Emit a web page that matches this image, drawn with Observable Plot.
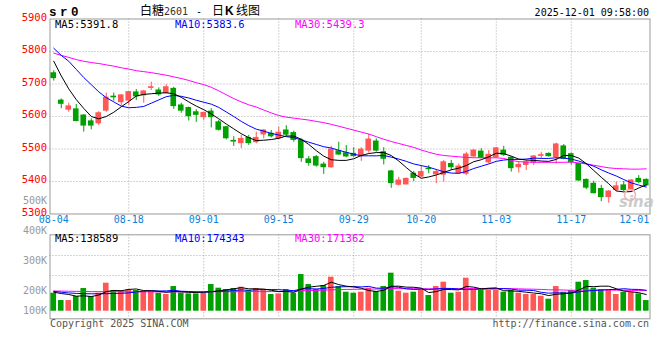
<!DOCTYPE html>
<html><head><meta charset="utf-8">
<script src="https://cdn.jsdelivr.net/npm/d3@7"></script>
<script src="https://cdn.jsdelivr.net/npm/@observablehq/plot@0.6"></script>
<style>
body{margin:0;background:#fff;}
#c{position:relative;width:660px;height:360px;overflow:hidden;background:#fff;}
#c svg{position:absolute;left:0;top:0;}
</style></head><body><div id="c"></div>
<script>
// ---------- data ----------
const dates = ["08-04","08-05","08-06","08-07","08-08","08-11","08-12","08-13","08-14","08-15","08-18","08-19","08-20","08-21","08-22","08-25","08-26","08-27","08-28","08-29","09-01","09-02","09-03","09-04","09-05","09-08","09-09","09-10","09-11","09-12","09-15","09-16","09-17","09-18","09-19","09-22","09-23","09-24","09-25","09-26","09-29","09-30","10-09","10-10","10-13","10-14","10-15","10-16","10-17","10-20","10-21","10-22","10-23","10-24","10-27","10-28","10-29","10-30","10-31","11-03","11-04","11-05","11-06","11-07","11-10","11-11","11-12","11-13","11-14","11-17","11-18","11-19","11-20","11-21","11-24","11-25","11-26","11-27","11-28","12-01"];
const open = [5733,5649,5621,5622,5603,5585,5579,5618,5661,5644, 5649,5674,5665,5688,5680,5672,5685,5634,5626,5613, 5598,5615,5582,5567,5525,5518,5534,5521,5545,5547, 5533,5557,5549,5526,5468,5475,5452,5444,5493,5487, 5485,5480,5495,5523,5490,5431,5390,5391,5424,5415, 5439,5422,5421,5454,5426,5424,5477,5492,5459,5475, 5495,5473,5444,5451,5458,5479,5485,5475,5508,5484, 5454,5405,5393,5377,5352,5374,5388,5374,5408,5405];
const high = [5741,5654,5641,5637,5605,5593,5615,5672,5672,5667, 5677,5683,5680,5706,5688,5698,5690,5641,5629,5621, 5613,5624,5588,5569,5538,5542,5542,5552,5559,5557, 5567,5572,5555,5531,5477,5480,5459,5508,5521,5511, 5504,5504,5545,5531,5504,5434,5413,5411,5431,5449, 5449,5437,5465,5465,5454,5490,5498,5501,5495,5505, 5508,5477,5459,5465,5480,5490,5488,5518,5514,5488, 5456,5408,5401,5388,5372,5398,5400,5405,5418,5408];
const low = [5709,5624,5613,5584,5552,5559,5572,5613,5647,5634, 5634,5649,5641,5680,5662,5670,5622,5610,5586,5582, 5588,5565,5555,5528,5508,5501,5511,5516,5531,5534, 5528,5538,5521,5459,5447,5444,5422,5441,5480,5473, 5475,5462,5487,5490,5451,5379,5386,5390,5400,5413, 5424,5393,5398,5434,5422,5418,5473,5470,5454,5472, 5477,5429,5426,5434,5449,5470,5475,5454,5467,5450, 5401,5375,5362,5338,5333,5369,5369,5367,5393,5385];
const close = [5718,5639,5631,5586,5572,5572,5610,5658,5659,5665, 5675,5662,5677,5690,5668,5690,5632,5618,5601,5605, 5611,5598,5559,5533,5523,5531,5518,5534,5557,5539, 5550,5544,5528,5472,5457,5449,5444,5498,5483,5477, 5478,5498,5529,5495,5470,5395,5403,5408,5411,5429, 5438,5429,5459,5444,5446,5483,5495,5473,5482,5502, 5482,5441,5451,5459,5477,5481,5478,5514,5470,5459, 5403,5381,5364,5352,5369,5385,5374,5403,5398,5388];
const ma5 = [5770,5725,5685,5652,5625,5600,5593,5600,5613,5630, 5646,5663,5668,5670,5672,5673,5670,5659,5645,5632, 5621,5608,5593,5577,5562,5547,5535,5526,5527,5529, 5533,5540,5540,5530,5514,5495,5478,5467,5465,5465, 5470,5480,5486,5489,5489,5480,5463,5443,5424,5410, 5414,5420,5428,5436,5441,5449,5461,5467,5476,5487, 5486,5478,5469,5466,5465,5463,5462,5468,5480,5480, 5472,5455,5434,5413,5393,5371,5368,5369,5380,5390];
const ma10 = [5810,5788,5770,5745,5720,5698,5676,5658,5645,5632, 5627,5628,5631,5641,5651,5661,5665,5662,5657,5650, 5644,5638,5628,5614,5600,5585,5572,5561,5555,5548, 5543,5538,5535,5528,5521,5514,5507,5503,5496,5490, 5484,5479,5479,5479,5480,5475,5469,5462,5454,5449, 5444,5437,5430,5426,5425,5431,5440,5447,5454,5462, 5466,5468,5468,5469,5472,5471,5471,5473,5472,5469, 5463,5455,5447,5436,5426,5417,5406,5396,5389,5383];
const ma30 = [5795,5788,5782,5775,5770,5766,5763,5759,5755,5750, 5746,5741,5738,5735,5731,5727,5722,5717,5711,5704, 5698,5690,5679,5667,5655,5645,5636,5629,5620,5611, 5603,5598,5595,5592,5589,5585,5581,5576,5570,5564, 5558,5552,5546,5538,5530,5523,5517,5511,5505,5497, 5490,5484,5480,5478,5476,5474,5473,5473,5473,5473, 5471,5465,5461,5460,5459,5459,5459,5459,5459,5460, 5457,5454,5450,5446,5442,5440,5439,5438,5438,5439];
const volume = [149700,88700,88700,122000,188500,122000,149700,232800,171900,171900, 177400,171900,163500,163500,149700,138600,205100,149700,144100,144100, 149700,221800,191300,180200,188500,199600,171900,188500,171900,138600, 144100,180200,149700,304900,221800,180200,213400,282700,205100,158000, 149700,158000,191300,163500,205100,316000,166300,149700,158000,171900, 130300,205100,241200,149700,158000,274400,177400,171900,171900,171900, 158000,171900,149700,138600,138600,124700,99800,205100,158000,171900, 241200,255000,191300,180200,171900,138600,158000,158000,144100,88700];
const volMa5 = [158000,147000,139000,125000,128000,122000,134000,163000,173000,170000, 181000,185000,171000,170000,165000,157000,164000,161000,157000,156000, 159000,162000,170000,177000,186000,196000,186000,186000,184000,174000, 163000,165000,157000,184000,200000,207000,214000,241000,221000,208000, 202000,191000,172000,164000,174000,207000,208000,200000,199000,192000, 155000,163000,181000,180000,177000,206000,200000,186000,191000,194000, 170000,169000,165000,158000,151000,145000,130000,141000,145000,152000, 175000,206000,204000,208000,208000,187000,168000,161000,154000,138600];
const volMa10 = [165000,158000,152000,148000,146000,145000,145000,146000,147000,149000, 152000,160000,167000,171000,168000,169000,174000,166000,164000,160000, 158000,163000,165000,167000,171000,177000,174000,178000,180000,180000, 179000,175000,171000,184000,187000,185000,189000,199000,202000,204000, 204000,202000,206000,192000,191000,204000,199000,186000,181000,183000, 181000,185000,190000,189000,184000,180000,181000,183000,185000,185000, 188000,184000,175000,174000,172000,157000,150000,153000,151000,151000, 160000,168000,172000,176000,180000,181000,187000,182000,181000,174300];
const volMa30 = [168000,167000,166000,165000,164000,163000,163000,162000,162000,162000, 161000,161000,161000,161000,161000,161000,161000,161000,161000,161000, 161000,162000,162000,162000,162000,163000,163000,163000,163000,163000, 164000,165000,166000,170000,172000,173000,175000,178000,179000,181000, 182000,183000,184000,184000,185000,188000,188000,187000,187000,187000, 186000,186000,187000,187000,187000,188000,189000,189000,189000,189000, 188000,187000,186000,184000,183000,181000,178000,178000,176000,174000, 175000,176000,176000,176000,176000,175000,174000,173000,172000,171400];
const priceTicks = [5900,5800,5700,5600,5500,5400,5300];
const priceGrid = [5800,5700,5600,5500,5400];
const gridDates = ["08-18","09-01","09-15","09-29","10-20","11-03","11-17"];
const tickDates = ["08-04","08-18","09-01","09-15","09-29","10-20","11-03","11-17"];
const lastDate = ["12-01"];
const volGrid = [297000,463000];
const volTicks = [500000,400000,300000,200000,100000];
const volTickLabels = ["500K","400K","300K","200K","100K"];

// ---------- build ----------
const rows = dates.map((d,i)=>({date:d, open:open[i], high:high[i], low:low[i], close:close[i],
  up: close[i] > open[i], ma5:ma5[i], ma10:ma10[i], ma30:ma30[i],
  vol:volume[i], vma5:volMa5[i], vma10:volMa10[i], vma30:volMa30[i]}));
const upRows = rows.filter(d=>d.up), downRows = rows.filter(d=>!d.up);

const RED = "#ff5656", GREEN = "#00a000", BLUE_T = "#0a7fdc";
const MONO = "DejaVu Sans Mono";
const W = 660, H = 360;
const xScale = () => ({type:"band", domain: dates, paddingInner:0.25, paddingOuter:0.125, axis:null});
const grid = {stroke:"#aaa", strokeDasharray:"1,2", strokeWidth:1};
const root = document.getElementById("c");

function mount(svg){ svg.style.background = "transparent"; svg.style.position="absolute"; svg.style.left="0px"; svg.style.top="0px"; svg.style.overflow="visible"; root.appendChild(svg); }

// price panel
mount(Plot.plot({
  width:W, height:H, marginLeft:49.5, marginRight:10.5, marginTop:18.5, marginBottom:146.5,
  x: xScale(), y: {domain:[5300,5900], axis:null},
  marks: [
    Plot.ruleY(priceGrid, {y:d=>d, ...grid}),
    Plot.ruleX(gridDates, {x:d=>d, ...grid}),
    Plot.frame({stroke:"#999"}),
    Plot.ruleX(upRows, {x:"date", y1:"low", y2:"high", stroke:RED, strokeWidth:1}),
    Plot.ruleX(downRows, {x:"date", y1:"low", y2:"high", stroke:GREEN, strokeWidth:1}),
    Plot.barY(upRows, {x:"date", y1:"open", y2:"close", fill:RED, insetTop:-0.5, insetBottom:-0.5}),
    Plot.barY(downRows, {x:"date", y1:"open", y2:"close", fill:GREEN, insetTop:-0.5, insetBottom:-0.5}),
    Plot.line(rows, {x:"date", y:"ma30", stroke:"#ff00ff", strokeWidth:1}),
    Plot.line(rows, {x:"date", y:"ma10", stroke:"#0000ff", strokeWidth:1}),
    Plot.line(rows, {x:"date", y:"ma5", stroke:"#000", strokeWidth:1}),
    Plot.text(priceTicks, {y:d=>d, text:d=>String(d), frameAnchor:"left", textAnchor:"end", dx:-3, dy:-1.5, fill:"#f00", fontFamily:MONO, fontSize:10.5}),
    Plot.text(tickDates, {x:d=>d, text:d=>d, frameAnchor:"bottom", dy:8.5, fill:BLUE_T, fontFamily:MONO, fontSize:10}),
    Plot.text(lastDate, {x:d=>d, text:d=>d, frameAnchor:"bottom", dy:8.5, dx:3, textAnchor:"end", fill:BLUE_T, fontFamily:MONO, fontSize:10})
  ]
}));

// volume panel
mount(Plot.plot({
  width:W, height:H, marginLeft:49.5, marginRight:10.5, marginTop:234.3, marginBottom:41.7,
  x: xScale(), y: {domain:[-63000,635000], axis:null},
  marks: [
    Plot.ruleY(volGrid, {y:d=>d, ...grid}),
    Plot.ruleX(gridDates, {x:d=>d, ...grid}),
    Plot.frame({stroke:"#999"}),
    Plot.barY(upRows, {x:"date", y:"vol", fill:RED}),
    Plot.barY(downRows, {x:"date", y:"vol", fill:GREEN}),
    Plot.line(rows, {x:"date", y:"vma30", stroke:"#ff00ff", strokeWidth:1}),
    Plot.line(rows, {x:"date", y:"vma10", stroke:"#0000ff", strokeWidth:1}),
    Plot.line(rows, {x:"date", y:"vma5", stroke:"#000", strokeWidth:1})
  ]
}));

// volume axis labels (their own label scale, bottom label clamped into the panel)
mount(Plot.plot({
  width:W, height:H, marginLeft:49.5, marginRight:10.5, marginTop:200, marginBottom:49.3,
  y: {domain:[133800,500000], clamp:true, axis:null},
  marks: [
    Plot.text(volTicks, {y:d=>d, text:(d,i)=>volTickLabels[i], frameAnchor:"left", textAnchor:"end", dx:-3, fill:"#999", fontFamily:MONO, fontSize:10})
  ]
}));

// header / footer texts
const hdr = d3.select(root).append("svg").attr("width",W).attr("height",H);
function txt(t, x, y, o={}) {
  hdr.append("text").attr("x",x).attr("y",y).text(t)
    .attr("font-family", o.ff || MONO).attr("font-size", o.fs || 10.5)
    .attr("fill", o.fill || "#000").attr("text-anchor", o.anchor || "start")
    .attr("font-weight", o.fw || "normal").attr("letter-spacing", o.ls || 0)
    .attr("font-style", o.st || "normal").attr("opacity", o.op || 1);
}
txt("sr0", 49, 15.5, {ff:"Liberation Mono", fs:12.5, fw:"bold", ls:3.5});
txt("白糖", 140, 14.5, {ff:"Noto Sans CJK SC", fs:12});
txt("2601", 164, 14.5, {ff:MONO, fs:10, fill:"#333"});
txt("-", 196, 14.5, {ff:MONO, fs:10});
txt("日", 212, 14.5, {ff:"Noto Sans CJK SC", fs:12});
txt("K", 225, 14.5, {ff:"Liberation Sans", fs:12, fw:"bold"});
txt("线图", 236, 14.5, {ff:"Noto Sans CJK SC", fs:12});
txt("2025-12-01 09:58:00", 649, 15.5, {anchor:"end", fs:10});
txt("MA5:5391.8", 55, 28, {fill:"#000"});
txt("MA10:5383.6", 175, 28, {fill:"#0000ff"});
txt("MA30:5439.3", 295, 28, {fill:"#ff00ff"});
txt("MA5:138589", 55, 241.5, {fill:"#000"});
txt("MA10:174343", 175, 241.5, {fill:"#0000ff"});
txt("MA30:171362", 295, 241.5, {fill:"#ff00ff"});
txt("Copyright 2025 SINA.COM", 50, 326.5, {fill:"#555", fs:10});
txt("http://finance.sina.com.cn", 649, 326.5, {fill:"#555", fs:10, anchor:"end"});
hdr.append("circle").attr("cx",630).attr("cy",195).attr("r",5.5).attr("fill","none").attr("stroke","#f2b4b4").attr("stroke-width",1.5);
txt("sina", 619, 207, {ff:"DejaVu Sans", fs:15, fw:"bold", st:"italic", fill:"#c4c4c4", op:0.85});
</script></body></html>
